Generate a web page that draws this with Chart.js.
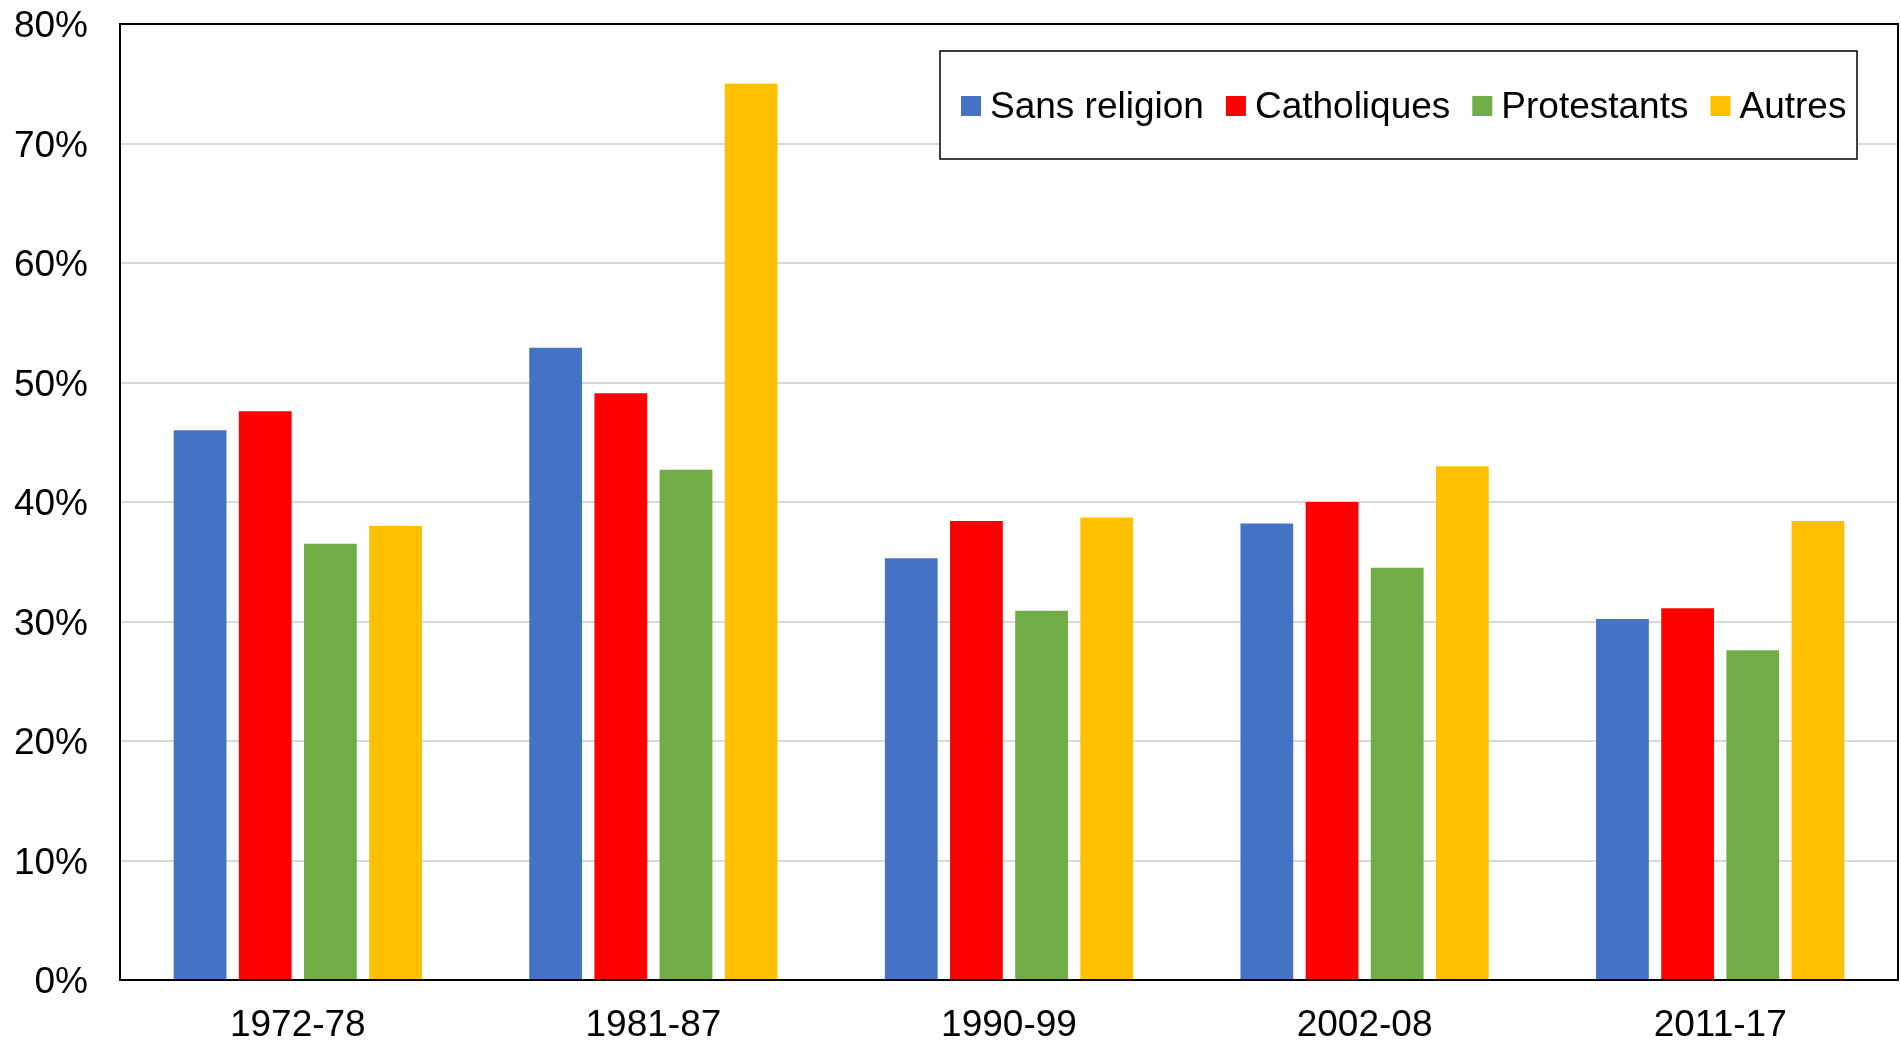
<!DOCTYPE html>
<html>
<head>
<meta charset="utf-8">
<script src="https://cdn.jsdelivr.net/npm/chart.js@4/dist/chart.umd.min.js"></script>
<style>
  html, body { margin: 0; padding: 0; background: #fff; }
  #wrap { width: 1901px; height: 1043px; }
</style>
</head>
<body>
<div id="wrap"><canvas id="c"></canvas></div>
<script>
// Periods and shares per group
const periods = ['1972-78', '1981-87', '1990-99', '2002-08', '2011-17'];
const sansReligion = [46.0, 52.9, 35.3, 38.2, 30.2];
const catholiques = [47.6, 49.1, 38.4, 40.0, 31.1];
const protestants = [36.5, 42.7, 30.9, 34.5, 27.6];
const autres = [38.0, 75.0, 38.7, 43.0, 38.4];
const seriesNames = ['Sans religion', 'Catholiques', 'Protestants', 'Autres'];
const seriesColors = ['#4472C4', '#FF0000', '#70AD47', '#FFC000'];

const FONT = '"Liberation Sans", Arial, sans-serif';

// frame round the plot area + boxed legend inside it
const framePlugin = {
  id: 'frame',
  afterDraw(chart) {
    const { ctx, chartArea: a } = chart;
    ctx.save();
    ctx.strokeStyle = '#000';
    ctx.lineWidth = 2;
    ctx.strokeRect(a.left, a.top, a.right - a.left, a.bottom - a.top);

    // legend box
    const bx = 940, by = 51, bw = 917, bh = 108;
    ctx.fillStyle = '#fff';
    ctx.fillRect(bx, by, bw, bh);
    ctx.lineWidth = 1.5;
    ctx.strokeRect(bx, by, bw, bh);

    ctx.font = '37px ' + FONT;
    ctx.textBaseline = 'middle';
    let x = bx + 21;
    const cy = by + bh / 2;
    chart.data.datasets.forEach(ds => {
      ctx.fillStyle = ds.backgroundColor;
      ctx.fillRect(x, cy - 9, 20, 20);
      x += 29;
      ctx.fillStyle = '#000';
      ctx.fillText(ds.label, x, cy + 3);
      x += ctx.measureText(ds.label).width + 22;
    });
    ctx.restore();
  }
};

const values = [sansReligion, catholiques, protestants, autres];

new Chart(document.getElementById('c'), {
  type: 'bar',
  data: {
    labels: periods,
    datasets: seriesNames.map((name, i) => ({
      label: name,
      data: values[i],
      backgroundColor: seriesColors[i],
      borderWidth: 0,
      categoryPercentage: 0.733,
      barPercentage: 0.81
    }))
  },
  options: {
    responsive: true,
    maintainAspectRatio: false,
    animation: false,
    layout: { padding: { top: 24, right: 3, left: 0, bottom: 0 } },
    plugins: {
      legend: { display: false },
      tooltip: { enabled: false }
    },
    scales: {
      x: {
        grid: { display: false, drawTicks: false },
        border: { display: false },
        ticks: { color: '#000', font: { family: FONT, size: 37 }, padding: 24 },
        afterFit(s) { s.height = 63; s.paddingLeft = 0; s.paddingRight = 0; }
      },
      y: {
        min: 0,
        max: 80,
        grid: { color: '#d9d9d9', lineWidth: 2, drawTicks: false },
        border: { display: false },
        ticks: {
          stepSize: 10,
          color: '#000',
          font: { family: FONT, size: 37 },
          padding: 32,
          labelOffset: 3,
          callback: v => v + '%'
        },
        afterFit(s) { s.width = 120; s.paddingTop = 0; s.paddingBottom = 0; }
      }
    }
  },
  plugins: [framePlugin]
});
</script>
</body>
</html>
